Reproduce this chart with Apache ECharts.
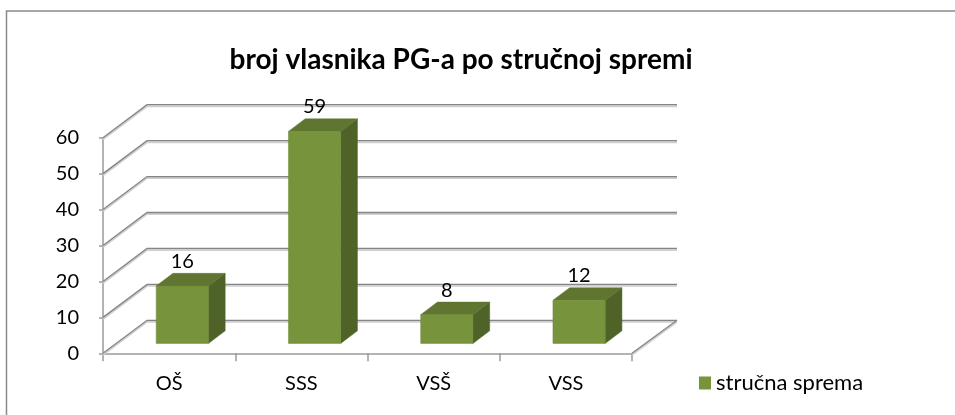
<!DOCTYPE html>
<html>
<head>
<meta charset="utf-8">
<script src="https://cdn.jsdelivr.net/npm/echarts@6/dist/echarts.min.js"></script>
<style>html,body{margin:0;padding:0;background:#fff}#c{width:955px;height:415px}</style>
</head>
<body>
<div id="c"></div>
<script>
var titleText = 'broj vlasnika PG-a po stručnoj spremi';
var categories = ['OŠ', 'SSS', 'VSŠ', 'VSS'];
var seriesName = 'stručna sprema';
var values = [16, 59, 8, 12];
var yTicks = [0, 10, 20, 30, 40, 50, 60];

var FONT = 'Lato, "Open Sans", sans-serif';
var DEPTH = [44, -33];      // full floor depth vector
var BAR_FRONT = 0.30;       // bar front position along depth
var BAR_DEPTH = 0.38;       // bar depth fraction
var BAR_W = 0.395;          // bar width as fraction of band

var chart = echarts.init(document.getElementById('c'), null, {renderer: 'canvas'});

function gridRender(params, api) {
  var cs = params.coordSys;
  var v = api.value(0);
  var p = api.coord([0, v]);
  var x0 = cs.x, x1 = cs.x + cs.width, y = p[1];
  var pts = [[x0, y], [x0 + DEPTH[0], y + DEPTH[1]], [x1 + DEPTH[0] + 1, y + DEPTH[1]]];
  var sh = pts.map(function (q) { return [q[0], q[1] + 1.5]; });
  var children = [
    {type: 'polyline', shape: {points: sh}, style: {stroke: '#cfcfcf', lineWidth: 2, fill: null}},
    {type: 'polyline', shape: {points: pts}, style: {stroke: '#858585', lineWidth: 1.3, fill: null}}
  ];
  if (v === 0) {
    var fr = [[x1, y], [x1 + DEPTH[0] + 1, y + DEPTH[1]]];
    children.push({type: 'polyline', shape: {points: fr.map(function (q) { return [q[0], q[1] + 1.5]; })}, style: {stroke: '#cfcfcf', lineWidth: 2, fill: null}});
    children.push({type: 'polyline', shape: {points: fr}, style: {stroke: '#858585', lineWidth: 1.3, fill: null}});
  }
  return {type: 'group', children: children};
}

function barRender(params, api) {
  var i = api.value(0), v = api.value(1);
  var top = api.coord([i, v]);
  var base = api.coord([i, 0]);
  var band = api.size([1, 0])[0];
  var w = band * BAR_W;
  var ox = DEPTH[0] * BAR_FRONT, oy = DEPTH[1] * BAR_FRONT;
  var dx = DEPTH[0] * BAR_DEPTH, dy = DEPTH[1] * BAR_DEPTH;
  var xl = top[0] - w / 2 + ox, xr = top[0] + w / 2 + ox;
  var yt = top[1] + oy, yb = base[1] + oy;
  return {type: 'group', children: [
    {type: 'polygon', shape: {points: [[xr, yt], [xr + dx, yt + dy], [xr + dx, yb + dy], [xr, yb]]},
     style: {fill: '#4f6228', stroke: '#4f6228', lineWidth: 0.5}},
    {type: 'polygon', shape: {points: [[xl, yt], [xl + dx, yt + dy], [xr + dx, yt + dy], [xr, yt]]},
     style: {fill: '#5f7530', stroke: '#5f7530', lineWidth: 0.5}},
    {type: 'rect', shape: {x: xl, y: yt, width: xr - xl, height: yb - yt},
     style: {fill: '#77933c', stroke: '#6d8a35', lineWidth: 0.5}},
    {type: 'text', x: (xl + xr) / 2, y: yt + dy - 12,
     style: {text: String(v), fill: '#000', font: '20px ' + FONT, align: 'center', verticalAlign: 'middle'}}
  ]};
}

var option = {
  animation: false,
  backgroundColor: '#fff',
  graphic: [
    {type: 'rect', shape: {x: 6.5, y: 11, width: 1000, height: 500}, style: {fill: null, stroke: '#8a8a8a', lineWidth: 1.5}, z: 100},
    {type: 'text', x: 461, y: 60, style: {text: titleText, fill: '#000', font: 'bold 28px ' + FONT, align: 'center', verticalAlign: 'middle'}}
  ],
  legend: {
    data: [{name: seriesName, icon: 'rect'}],
    left: 699, top: 372, padding: 0,
    itemWidth: 12, itemHeight: 13, itemGap: 6,
    textStyle: {fontSize: 22, fontFamily: FONT, color: '#000'}
  },
  grid: {left: 103, top: 137.7, width: 529, height: 215.6, containLabel: false},
  xAxis: {
    type: 'category', data: categories, boundaryGap: true,
    axisLine: {show: true, lineStyle: {color: '#9a9a9a', width: 1.5}},
    axisTick: {show: true, alignWithLabel: false, length: 8, lineStyle: {color: '#9a9a9a', width: 1.5}},
    axisLabel: {fontSize: 20, fontFamily: FONT, color: '#000', margin: 20}
  },
  yAxis: {
    type: 'value', min: 0, max: 60, interval: 10,
    axisLine: {show: true, lineStyle: {color: '#9a9a9a', width: 1.5}},
    axisTick: {show: true, inside: false, length: 4, lineStyle: {color: '#9a9a9a', width: 1.5}},
    splitLine: {show: false},
    axisLabel: {fontSize: 20, fontFamily: FONT, color: '#000', margin: 24}
  },
  series: [
    {type: 'custom', name: 'grid3d', renderItem: gridRender, data: yTicks.map(function (t) { return [t]; }),
     encode: {y: 0}, z: 1, silent: true, legendHoverLink: false},
    {type: 'custom', name: seriesName, renderItem: barRender,
     data: values.map(function (v, i) { return [i, v]; }),
     encode: {x: 0, y: 1}, itemStyle: {color: '#77933c'}, z: 5}
  ]
};
chart.setOption(option);
</script>
</body>
</html>
